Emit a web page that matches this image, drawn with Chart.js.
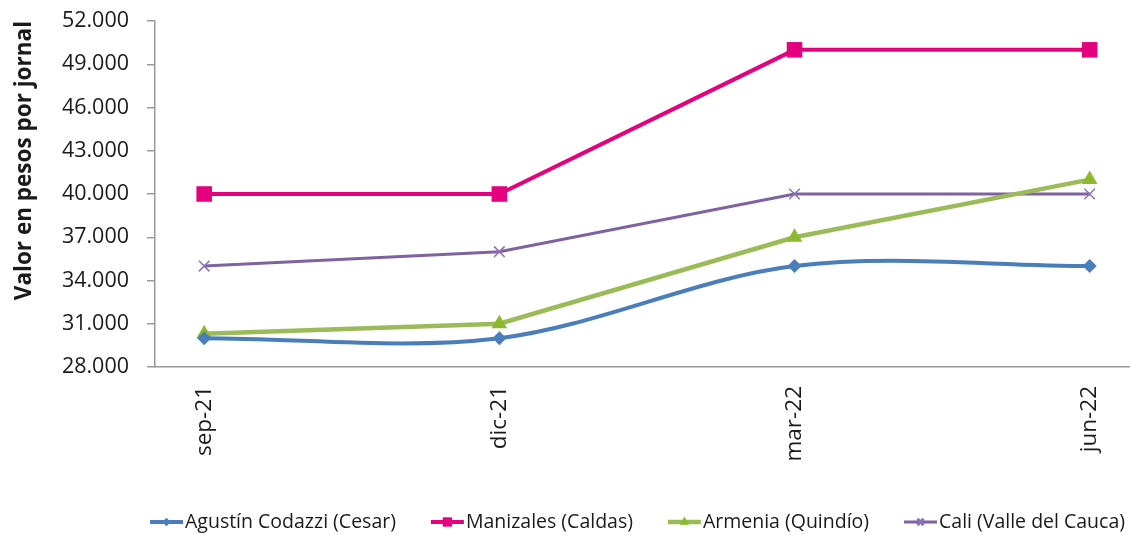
<!DOCTYPE html>
<html lang="es">
<head>
<meta charset="utf-8">
<title>Valor del jornal</title>
<script src="https://cdn.jsdelivr.net/npm/chart.js@4.4.1/dist/chart.umd.min.js"></script>
<style>
  html, body { margin: 0; padding: 0; background: #fff; overflow: hidden; }
  #chart { display: block; }
</style>
</head>
<body>
<canvas id="chart" width="1130" height="535"></canvas>
<script>
// quarterly readings, placed on a monthly date axis (sep-21 .. jun-22)
const periods = ["sep-21", "dic-21", "mar-22", "jun-22"];
const monthIndex = [0, 3, 6, 9];

const codazzi = [30000, 30000, 35000, 35000];
const manizales = [40000, 40000, 50000, 50000];
const armenia = [30300, 31000, 37000, 41000];
const cali = [35000, 36000, 40000, 40000];

const yMin = 28000;
const yMax = 52000;
const yStep = 3000;

// month bands are centred on the points; the last band is cut by the border
const xMin = -0.5;
const xMax = 9.41;

const FONT = "'Open Sans', 'Segoe UI', sans-serif";
const TEXT = "#1a1a1a";
const AXIS = "#9a9a9a";

function points(values) {
  return values.map((v, i) => ({ x: monthIndex[i], y: v }));
}

function formatThousands(v) {
  return String(v).replace(/\B(?=(\d{3})+(?!\d))/g, ".");
}

// legend drawn as line + marker, spread across the bottom row
const lineLegend = {
  id: "lineLegend",
  afterDraw(chart) {
    const ctx = chart.ctx;
    const sets = chart.data.datasets;
    const left = 150, right = 1125, y = 522, lineLen = 33, textGap = 2;
    ctx.save();
    ctx.font = `19.5px ${FONT}`;
    ctx.textBaseline = "middle";
    const widths = sets.map((ds) => lineLen + textGap + ctx.measureText(ds.label).width);
    const gap = (right - left - widths.reduce((a, b) => a + b, 0)) / (sets.length - 1);
    let x = left;
    sets.forEach((ds, i) => {
      ctx.strokeStyle = ds.borderColor;
      ctx.lineWidth = ds.borderWidth;
      ctx.beginPath();
      ctx.moveTo(x, y);
      ctx.lineTo(x + lineLen, y);
      ctx.stroke();
      ctx.fillStyle = ds.pointBackgroundColor;
      ctx.strokeStyle = ds.pointBorderColor;
      Chart.helpers.drawPoint(ctx, {
        pointStyle: ds.pointStyle,
        radius: ds.pointRadius * 0.6,
        borderWidth: ds.pointBorderWidth,
        rotation: 0,
      }, x + lineLen / 2, y);
      ctx.fillStyle = TEXT;
      ctx.fillText(ds.label, x + lineLen + textGap, y);
      x += widths[i] + gap;
    });
    ctx.restore();
  },
};

new Chart(document.getElementById("chart"), {
  type: "line",
  data: {
    datasets: [
      {
        label: "Agustín Codazzi (Cesar)",
        data: points(codazzi),
        borderColor: "#4A7EBB",
        borderWidth: 4,
        tension: 0.33,
        pointStyle: "rectRot",
        pointRadius: 7,
        pointBackgroundColor: "#4A7EBB",
        pointBorderColor: "#4A7EBB",
        pointBorderWidth: 0,
      },
      {
        label: "Manizales (Caldas)",
        data: points(manizales),
        borderColor: "#E5007D",
        borderWidth: 4,
        tension: 0,
        pointStyle: "rect",
        pointRadius: 11,
        pointBackgroundColor: "#E5007D",
        pointBorderColor: "#E5007D",
        pointBorderWidth: 0,
      },
      {
        label: "Armenia (Quindío)",
        data: points(armenia),
        borderColor: "#9BBB59",
        borderWidth: 4.5,
        tension: 0,
        pointStyle: "triangle",
        pointRadius: 9,
        pointBackgroundColor: "#8DB92E",
        pointBorderColor: "#8DB92E",
        pointBorderWidth: 0,
      },
      {
        label: "Cali (Valle del Cauca)",
        data: points(cali),
        borderColor: "#7F62A1",
        borderWidth: 3,
        tension: 0,
        pointStyle: "crossRot",
        pointRadius: 7.5,
        pointBackgroundColor: "#7F62A1",
        pointBorderColor: "#8C72B0",
        pointBorderWidth: 1.5,
      },
    ],
  },
  options: {
    responsive: false,
    animation: false,
    layout: { autoPadding: false, padding: { top: 21, left: 0, right: 0, bottom: 68 } },
    plugins: {
      legend: { display: false },
      tooltip: { enabled: false },
    },
    scales: {
      x: {
        type: "linear",
        bounds: "data",
        min: xMin,
        max: xMax,
        afterFit: (s) => {
          s.height = 100;
          s.paddingLeft = 0;
          s.paddingRight = 0;
        },
        afterBuildTicks: (s) => {
          s.min = xMin;
          s.max = xMax;
          s.ticks = monthIndex.map((v) => ({ value: v }));
        },
        border: { color: AXIS, width: 1.5 },
        grid: { display: true, drawOnChartArea: false, drawTicks: false },
        ticks: {
          autoSkip: false,
          minRotation: 90,
          maxRotation: 90,
          padding: 19,
          color: TEXT,
          font: { family: FONT, size: 22.5 },
          callback: (v) => periods[monthIndex.indexOf(v)],
        },
      },
      y: {
        min: yMin,
        max: yMax,
        afterFit: (s) => {
          s.width = 155;
          s.paddingTop = 0;
          s.paddingBottom = 0;
        },
        border: { color: AXIS, width: 1.5 },
        grid: { drawOnChartArea: false, drawTicks: true, tickLength: 8, color: AXIS, lineWidth: 1.5 },
        ticks: {
          stepSize: yStep,
          padding: 18,
          color: TEXT,
          font: { family: FONT, size: 21.5 },
          callback: (v) => formatThousands(v),
        },
        title: {
          display: true,
          text: "Valor en pesos por jornal",
          align: "end",
          color: TEXT,
          font: { family: FONT, size: 22.5, weight: "bold" },
          padding: { top: 11, bottom: 0 },
        },
      },
    },
  },
  plugins: [lineLegend],
});
</script>
</body>
</html>
